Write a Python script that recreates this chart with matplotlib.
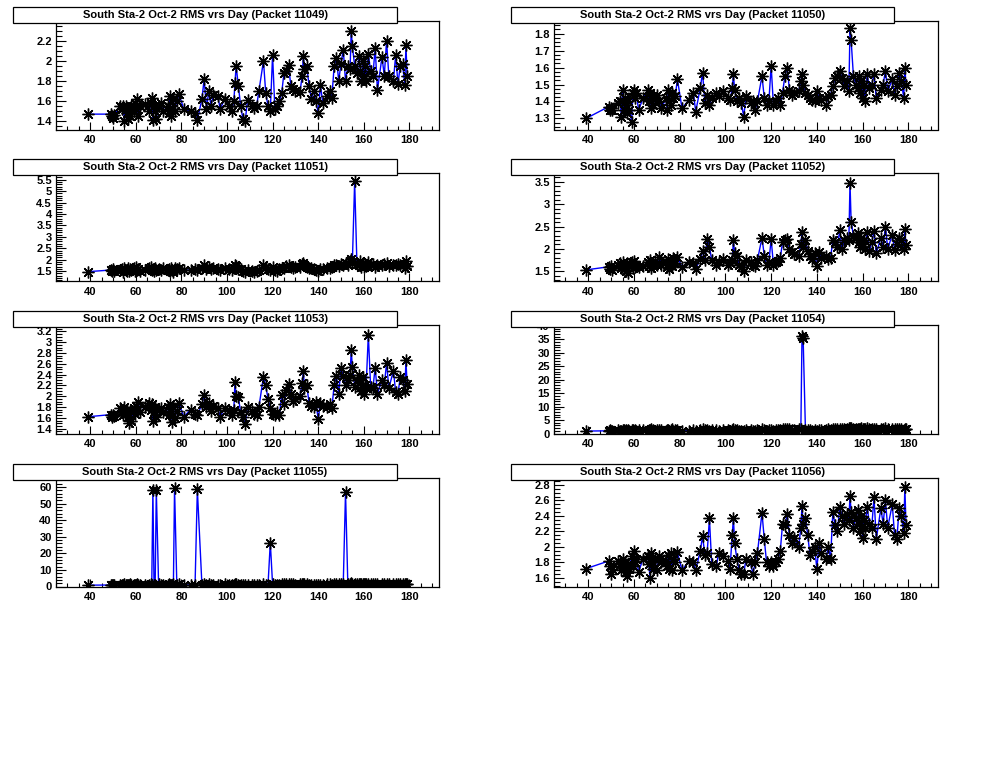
import matplotlib
matplotlib.use("Agg")
import matplotlib.pyplot as plt
from matplotlib.patches import Rectangle
from matplotlib.ticker import MultipleLocator

# day of each measurement (shared by all packets)
days = [
    39, 49, 49.5, 50, 50.5, 53, 54, 54.5, 55, 55.5,
    56, 56.5, 57, 57.5, 58, 59, 59.5, 60, 60.5, 61,
    62, 64, 66, 66.5, 67, 67.5, 68, 68.5, 69, 70,
    71, 72, 74, 74.5, 75, 75.5, 76, 76.5, 77, 78,
    79, 81, 84, 86, 87, 89, 90, 91, 92, 93,
    94, 96, 97, 99, 101, 102, 103, 103.5, 104, 105,
    106, 107, 108, 109, 111, 112, 113, 114, 116, 117,
    118, 119, 120, 121, 122, 123, 124, 125, 126, 127,
    128, 129, 130, 132, 133, 133.5, 134, 135, 136, 137,
    138, 139, 140, 141, 142, 144, 145, 146, 147, 148,
    149, 150, 151, 152, 153, 154, 154.5, 155, 156, 157,
    158, 158.5, 159, 159.5, 160, 160.5, 161, 162, 163, 164,
    165, 166, 168, 169, 170, 171, 173, 174, 175, 176,
    177, 178, 178.5, 179,
]

packets = [11049, 11050, 11051, 11052, 11053, 11054, 11055, 11056]

rms_11049 = [
    1.47, 1.47, 1.45, 1.43, 1.46, 1.55, 1.52, 1.55, 1.40, 1.55,
    1.48, 1.42, 1.52, 1.45, 1.55, 1.50, 1.58, 1.52, 1.62, 1.45,
    1.55, 1.57, 1.50, 1.58, 1.63, 1.41, 1.55, 1.50, 1.42, 1.55,
    1.58, 1.50, 1.55, 1.48, 1.65, 1.45, 1.52, 1.62, 1.50, 1.60,
    1.67, 1.52, 1.50, 1.48, 1.41, 1.62, 1.82, 1.52, 1.70, 1.55,
    1.66, 1.65, 1.52, 1.62, 1.55, 1.50, 1.60, 1.78, 1.95, 1.75,
    1.55, 1.42, 1.40, 1.61, 1.55, 1.53, 1.55, 1.70, 2.00, 1.68,
    1.55, 1.50, 2.06, 1.52, 1.55, 1.60, 1.68, 1.88, 1.90, 1.96,
    1.75, 1.72, 1.70, 1.69, 1.85, 2.05, 1.92, 1.95, 1.75, 1.62,
    1.70, 1.60, 1.48, 1.76, 1.58, 1.65, 1.70, 1.63, 1.95, 2.03,
    1.80, 1.97, 2.11, 1.80, 1.95, 1.92, 2.30, 2.15, 1.95, 1.88,
    2.05, 1.90, 1.80, 2.00, 1.85, 1.95, 1.80, 2.07, 1.90, 1.85,
    2.13, 1.71, 2.04, 1.85, 2.20, 1.85, 1.80, 2.06, 1.77, 1.95,
    1.97, 1.76, 2.16, 1.85,
]

rms_11050 = [
    1.30, 1.37, 1.35, 1.36, 1.35, 1.39, 1.40, 1.31, 1.47, 1.35,
    1.42, 1.38, 1.33, 1.40, 1.35, 1.28, 1.45, 1.47, 1.42, 1.45,
    1.35, 1.42, 1.47, 1.40, 1.45, 1.36, 1.43, 1.38, 1.42, 1.44,
    1.40, 1.36, 1.42, 1.35, 1.47, 1.40, 1.38, 1.45, 1.42, 1.43,
    1.53, 1.36, 1.41, 1.45, 1.34, 1.48, 1.57, 1.39, 1.44, 1.38,
    1.42, 1.45, 1.43, 1.46, 1.42, 1.41, 1.48, 1.56, 1.47, 1.40,
    1.42, 1.39, 1.31, 1.43, 1.39, 1.40, 1.35, 1.40, 1.55, 1.42,
    1.38, 1.40, 1.61, 1.38, 1.40, 1.42, 1.38, 1.45, 1.55, 1.60,
    1.47, 1.44, 1.45, 1.46, 1.52, 1.56, 1.50, 1.45, 1.44, 1.42,
    1.41, 1.40, 1.46, 1.42, 1.41, 1.38, 1.43, 1.44, 1.49, 1.54,
    1.55, 1.58, 1.54, 1.49, 1.52, 1.46, 1.83, 1.76, 1.55, 1.50,
    1.48, 1.55, 1.45, 1.52, 1.42, 1.50, 1.40, 1.56, 1.48, 1.50,
    1.56, 1.42, 1.47, 1.50, 1.58, 1.46, 1.53, 1.44, 1.49, 1.57,
    1.52, 1.42, 1.60, 1.50,
]

rms_11051 = [
    1.48, 1.55, 1.52, 1.58, 1.50, 1.55, 1.60, 1.48, 1.62, 1.55,
    1.52, 1.65, 1.50, 1.60, 1.55, 1.62, 1.50, 1.68, 1.55, 1.60,
    1.52, 1.55, 1.62, 1.68, 1.55, 1.60, 1.50, 1.65, 1.55, 1.58,
    1.55, 1.62, 1.55, 1.60, 1.50, 1.65, 1.55, 1.48, 1.62, 1.58,
    1.62, 1.55, 1.55, 1.58, 1.55, 1.65, 1.78, 1.60, 1.68, 1.58,
    1.62, 1.60, 1.55, 1.62, 1.60, 1.55, 1.65, 1.78, 1.72, 1.60,
    1.58, 1.50, 1.48, 1.55, 1.50, 1.48, 1.52, 1.55, 1.75, 1.70,
    1.60, 1.55, 1.68, 1.55, 1.50, 1.58, 1.62, 1.65, 1.72, 1.75,
    1.70, 1.65, 1.68, 1.70, 1.80, 1.85, 1.75, 1.70, 1.65, 1.62,
    1.60, 1.55, 1.52, 1.60, 1.58, 1.62, 1.65, 1.68, 1.75, 1.78,
    1.72, 1.80, 1.75, 1.85, 1.78, 1.95, 2.05, 1.90, 5.42, 1.80,
    1.75, 1.95, 1.70, 1.85, 1.68, 1.80, 1.72, 1.90, 1.75, 1.82,
    1.70, 1.78, 1.75, 1.80, 1.85, 1.72, 1.78, 1.75, 1.80, 1.78,
    1.75, 1.65, 1.95, 1.72,
]

rms_11052 = [
    1.53, 1.60, 1.55, 1.62, 1.52, 1.65, 1.68, 1.58, 1.70, 1.55,
    1.62, 1.50, 1.68, 1.45, 1.62, 1.70, 1.58, 1.72, 1.60, 1.65,
    1.60, 1.62, 1.70, 1.62, 1.75, 1.58, 1.68, 1.62, 1.72, 1.65,
    1.82, 1.65, 1.70, 1.60, 1.78, 1.55, 1.70, 1.62, 1.80, 1.68,
    1.82, 1.60, 1.70, 1.68, 1.55, 1.78, 1.95, 1.75, 2.22, 2.05,
    1.75, 1.65, 1.70, 1.78, 1.65, 1.68, 1.75, 2.20, 1.90, 1.85,
    1.65, 1.60, 1.50, 1.75, 1.70, 1.65, 1.62, 1.75, 2.25, 1.85,
    1.65, 1.70, 2.22, 1.65, 1.70, 1.72, 1.80, 2.15, 2.20, 2.22,
    2.00, 1.92, 1.88, 1.85, 2.10, 2.38, 2.05, 2.20, 1.95, 1.85,
    1.78, 1.90, 1.62, 1.92, 1.80, 1.85, 1.78, 1.80, 2.20, 2.15,
    2.05, 2.42, 2.00, 2.20, 2.25, 2.20, 3.48, 2.60, 2.30, 2.25,
    2.35, 2.15, 2.05, 2.25, 2.10, 2.20, 2.00, 2.38, 1.95, 2.15,
    2.40, 1.90, 2.25, 2.05, 2.50, 2.00, 2.32, 1.98, 2.10, 2.25,
    2.20, 2.00, 2.45, 2.08,
]

rms_11053 = [
    1.62, 1.66, 1.62, 1.65, 1.63, 1.78, 1.72, 1.65, 1.80, 1.68,
    1.75, 1.62, 1.50, 1.72, 1.55, 1.78, 1.68, 1.82, 1.75, 1.90,
    1.70, 1.80, 1.88, 1.75, 1.85, 1.55, 1.70, 1.80, 1.62, 1.75,
    1.78, 1.70, 1.80, 1.65, 1.85, 1.72, 1.52, 1.80, 1.60, 1.72,
    1.87, 1.62, 1.75, 1.68, 1.65, 1.85, 2.02, 1.80, 1.88, 1.72,
    1.82, 1.78, 1.62, 1.78, 1.72, 1.65, 1.75, 2.27, 2.00, 1.98,
    1.70, 1.62, 1.48, 1.80, 1.72, 1.68, 1.65, 1.80, 2.36, 2.20,
    1.95, 1.78, 1.68, 1.65, 1.70, 1.65, 2.02, 1.85, 2.12, 2.22,
    2.05, 1.92, 1.95, 2.00, 2.25, 2.46, 2.15, 2.20, 1.88, 1.82,
    1.80, 1.90, 1.57, 1.88, 1.82, 1.80, 1.85, 1.78, 2.20, 2.38,
    2.05, 2.52, 2.38, 2.20, 2.30, 2.40, 2.85, 2.55, 2.18, 2.30,
    2.40, 2.25, 2.10, 2.35, 2.05, 2.20, 2.15, 3.14, 2.18, 2.15,
    2.53, 2.05, 2.30, 2.20, 2.62, 2.15, 2.47, 2.08, 2.05, 2.35,
    2.30, 2.10, 2.67, 2.22,
]

rms_11054 = [
    0.9, 1.0, 1.2, 0.9, 1.1, 1.3, 1.1, 0.9, 1.4, 1.2,
    1.0, 1.3, 1.1, 1.4, 0.9, 1.2, 1.3, 1.0, 1.4, 1.1,
    1.2, 1.3, 1.0, 1.4, 1.2, 1.5, 1.1, 1.3, 1.0, 1.4,
    1.2, 1.3, 1.1, 1.4, 1.2, 1.0, 1.3, 1.5, 1.1, 1.2,
    1.4, 1.1, 1.0, 1.2, 0.9, 1.3, 1.5, 1.2, 1.4, 1.1,
    1.3, 1.2, 1.0, 1.4, 1.2, 1.1, 1.3, 1.5, 1.4, 1.2,
    1.1, 1.0, 0.9, 1.3, 1.2, 1.1, 1.0, 1.2, 1.5, 1.3,
    1.1, 1.2, 1.4, 1.1, 1.2, 1.3, 1.4, 1.5, 1.6, 1.7,
    1.5, 1.4, 1.3, 1.5, 1.6, 36.2, 35.3, 1.4, 1.3, 1.2,
    1.1, 1.3, 1.0, 1.3, 1.2, 1.4, 1.5, 1.3, 1.6, 1.7,
    1.5, 1.8, 1.6, 1.7, 1.8, 1.9, 2.2, 1.9, 1.7, 1.6,
    1.8, 1.6, 1.5, 1.9, 1.6, 1.7, 1.5, 1.9, 1.6, 1.7,
    1.8, 1.5, 1.7, 1.6, 1.9, 1.5, 1.7, 1.6, 1.5, 1.7,
    1.6, 1.4, 1.8, 1.5,
]

rms_11055 = [
    0.8, 0.9, 1.1, 0.8, 1.0, 1.2, 1.0, 0.8, 1.3, 1.1,
    0.9, 1.2, 1.0, 1.3, 0.8, 1.1, 1.2, 0.9, 1.3, 1.0,
    1.1, 1.2, 0.9, 1.3, 1.1, 58.0, 1.0, 1.2, 58.0, 1.3,
    1.1, 1.2, 1.0, 1.3, 1.1, 0.9, 1.2, 1.4, 59.5, 1.1,
    1.3, 1.0, 0.9, 1.1, 58.5, 1.2, 1.4, 1.1, 1.3, 1.0,
    1.2, 1.1, 0.9, 1.3, 1.1, 1.0, 1.2, 1.4, 1.3, 1.1,
    1.0, 0.9, 0.8, 1.2, 1.1, 1.0, 0.9, 1.1, 1.4, 1.2,
    1.0, 26.5, 1.3, 1.0, 1.1, 1.2, 1.3, 1.4, 1.5, 1.6,
    1.4, 1.3, 1.2, 1.4, 1.5, 1.6, 1.5, 1.3, 1.2, 1.1,
    1.0, 1.2, 0.9, 1.2, 1.1, 1.3, 1.4, 1.2, 1.5, 1.6,
    1.4, 1.7, 1.5, 57.0, 1.7, 1.8, 2.0, 1.8, 1.6, 1.5,
    1.7, 1.5, 1.4, 1.8, 1.5, 1.6, 1.4, 1.8, 1.5, 1.6,
    1.7, 1.4, 1.6, 1.5, 1.8, 1.4, 1.6, 1.5, 1.4, 1.6,
    1.5, 1.3, 1.7, 1.4,
]

rms_11056 = [
    1.72, 1.82, 1.75, 1.65, 1.72, 1.82, 1.78, 1.70, 1.85, 1.75,
    1.80, 1.68, 1.62, 1.78, 1.72, 1.88, 1.75, 1.95, 1.80, 1.85,
    1.68, 1.85, 1.88, 1.78, 1.60, 1.92, 1.80, 1.72, 1.85, 1.70,
    1.88, 1.80, 1.82, 1.75, 1.90, 1.72, 1.92, 1.70, 1.85, 1.80,
    1.93, 1.70, 1.82, 1.80, 1.70, 1.95, 2.14, 1.90, 1.92, 2.37,
    1.78, 1.75, 1.92, 1.88, 1.82, 1.72, 2.15, 2.38, 2.05, 1.85,
    1.70, 1.65, 1.65, 1.85, 1.80, 1.65, 1.80, 1.92, 2.44, 2.10,
    1.80, 1.75, 1.80, 1.75, 1.80, 1.85, 1.95, 2.30, 2.28, 2.42,
    2.15, 2.05, 2.12, 2.00, 2.25, 2.53, 2.30, 2.38, 2.15, 1.90,
    1.95, 2.00, 1.72, 2.05, 1.92, 1.85, 2.00, 1.85, 2.45, 2.28,
    2.20, 2.52, 2.40, 2.30, 2.42, 2.35, 2.66, 2.45, 2.25, 2.38,
    2.48, 2.30, 2.20, 2.40, 2.12, 2.35, 2.25, 2.52, 2.30, 2.25,
    2.64, 2.10, 2.50, 2.30, 2.60, 2.25, 2.55, 2.15, 2.10, 2.50,
    2.40, 2.18, 2.78, 2.28,
]

series = [rms_11049, rms_11050, rms_11051, rms_11052,
          rms_11053, rms_11054, rms_11055, rms_11056]

# y range and tick steps per pad (major, minor)
ylims = [(1.317, 2.397), (1.235, 1.874), (1.05, 5.79), (1.27, 3.70),
         (1.31, 3.32), (0, 40.3), (0, 65.4), (1.49, 2.89)]
ysteps = [(0.2, 0.05), (0.1, 0.025), (0.5, 0.1), (0.5, 0.1),
          (0.2, 0.05), (5, 1), (10, 2), (0.2, 0.05)]

W, H = 996, 762
col_x = [(56, 439), (554, 938)]
title_x = [(13, 397), (511, 894)]
row_top = [21, 173, 325, 478]
pad_h = 108.5

plt.rcParams['font.family'] = ['Liberation Sans', 'DejaVu Sans']
plt.rcParams['font.weight'] = 'bold'

fig = plt.figure(figsize=(W / 100, H / 100), dpi=100)
fig.patch.set_facecolor('white')

for k, (packet, vals) in enumerate(zip(packets, series)):
    row, col = k // 2, k % 2
    x0, x1 = col_x[col]
    top = row_top[row]
    ax = fig.add_axes([x0 / W, 1 - (top + pad_h) / H, (x1 - x0) / W, pad_h / H])
    ax.plot(days, vals, color='#0000ff', lw=1, zorder=2)
    ax.plot(days, vals, ls='none', marker=(8, 2, 0), ms=8.5, mec='black',
            mew=1.0, zorder=3)
    ax.set_xlim(25, 193)
    ax.set_ylim(*ylims[k])
    ax.xaxis.set_major_locator(MultipleLocator(20))
    ax.xaxis.set_minor_locator(MultipleLocator(5))
    ax.yaxis.set_major_locator(MultipleLocator(ysteps[k][0]))
    ax.yaxis.set_minor_locator(MultipleLocator(ysteps[k][1]))
    ax.tick_params(which='both', direction='in', top=False, right=False,
                   labelsize=8, width=0.8)
    ax.tick_params(axis='y', which='major', length=7, pad=3)
    ax.tick_params(axis='y', which='minor', length=4)
    ax.tick_params(axis='x', which='major', length=6, pad=4)
    ax.tick_params(axis='x', which='minor', length=3)
    ax.yaxis.set_major_formatter(
        matplotlib.ticker.FuncFormatter(lambda v, p: f"{v:g}"))
    for s in ax.spines.values():
        s.set_linewidth(0.9)

    # pad title box like ROOT
    tx0, tx1 = title_x[col]
    ty0, ty1 = top - 14, top + 1.5
    fig.add_artist(Rectangle((tx0 / W, 1 - ty1 / H), (tx1 - tx0) / W,
                             (ty1 - ty0) / H, transform=fig.transFigure,
                             facecolor='white', edgecolor='black', lw=0.9,
                             zorder=5))
    fig.text((tx0 + tx1) / 2 / W, 1 - (ty0 + ty1) / 2 / H,
             f"South Sta-2 Oct-2 RMS vrs Day (Packet {packet})",
             ha='center', va='center', fontsize=8, fontweight='bold',
             zorder=6)

fig.savefig("out.png", dpi=100)
